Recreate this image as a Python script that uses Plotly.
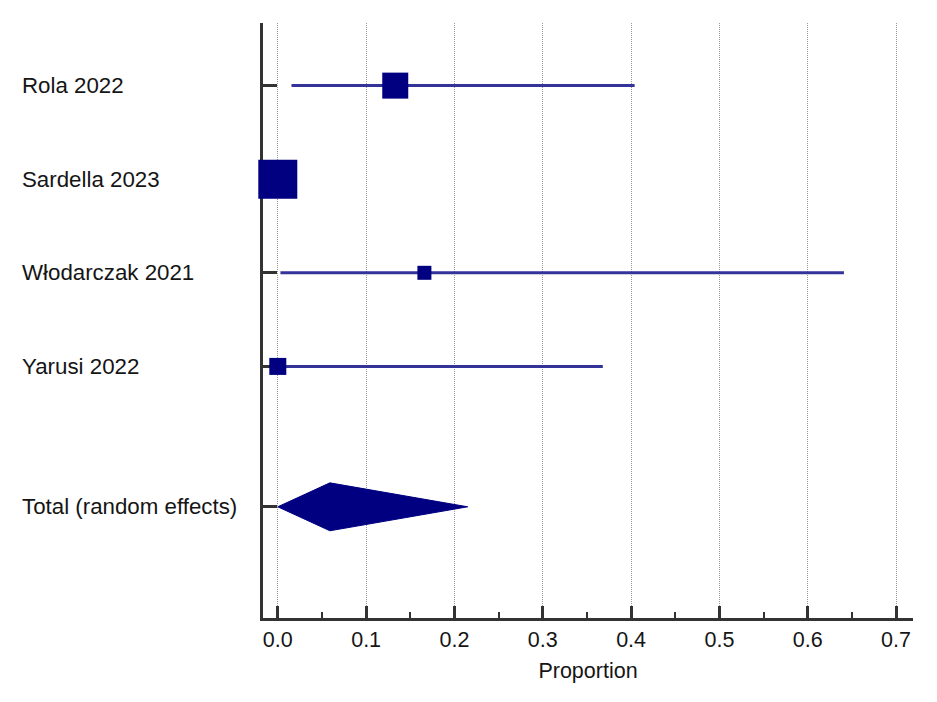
import plotly.graph_objects as go

# ---- data ----
studies = ["Rola 2022", "Sardella 2023", "Włodarczak 2021", "Yarusi 2022"]
estimates = [0.133, 0.0, 0.166, 0.0]
ci_low = [0.0155, 0.0, 0.003, 0.0]
ci_high = [0.404, 0.019, 0.641, 0.368]
total_label = "Total (random effects)"
total_est = 0.059
total_low = 0.0
total_high = 0.215
tick_vals = [0.0, 0.1, 0.2, 0.3, 0.4, 0.5, 0.6, 0.7]

# ---- style ----
row_pos = [0, 1, 2, 3]
total_pos = 4.5
marker_sizes = [26, 39, 14, 17]
navy = "#000080"
ci_color = "#333399"
axis_color = "#333333"
text_color = "#151515"
font_family = "Liberation Sans, Arial, sans-serif"
diamond_half = 0.256

fig = go.Figure()

# CI lines
for lo, hi, y in zip(ci_low, ci_high, row_pos):
    fig.add_trace(go.Scatter(x=[lo, hi], y=[y, y], mode="lines",
                             line=dict(color=ci_color, width=3),
                             hoverinfo="skip", showlegend=False, cliponaxis=False))

# squares
fig.add_trace(go.Scatter(x=estimates, y=row_pos, mode="markers",
                         marker=dict(symbol="square", size=marker_sizes, color=navy,
                                     opacity=1, line=dict(width=0)),
                         showlegend=False, cliponaxis=False))

# diamond
fig.add_trace(go.Scatter(
    x=[total_low, total_est, total_high, total_est, total_low],
    y=[total_pos, total_pos - diamond_half, total_pos, total_pos + diamond_half, total_pos],
    mode="lines", fill="toself", fillcolor=navy,
    line=dict(color=navy, width=1), showlegend=False, cliponaxis=False))

# left labels
labels = studies + [total_label]
label_pos = row_pos + [total_pos]
plot_left, plot_right = 262.5, 913
for lab, y in zip(labels, label_pos):
    fig.add_annotation(text=lab, x=(19 - plot_left) / (plot_right - plot_left), xref="paper",
                       y=y, yref="y", xanchor="left", yanchor="middle", showarrow=False,
                       font=dict(family=font_family, size=22.3, color=text_color))

# page body has an 8px default margin: compensate
fig.update_layout(
    width=929, height=694,
    margin=dict(l=254.5, r=24, t=15, b=83.5),
    paper_bgcolor="white", plot_bgcolor="white",
    font=dict(family=font_family, size=21.5, color=text_color),
    xaxis=dict(range=[-0.01674, 0.7192], tickvals=tick_vals, tickformat=".1f",
               showgrid=True, gridcolor="#999999", griddash="1px,1px", gridwidth=1,
               zeroline=False, showline=True, linecolor=axis_color, linewidth=3,
               ticks="inside", ticklen=12, tickwidth=3, tickcolor=axis_color,
               minor=dict(ticks="inside", ticklen=6, tickwidth=2, tickcolor=axis_color,
                          dtick=0.05, showgrid=False),
               title=dict(text="Proportion", font=dict(size=21.5, color=text_color), standoff=13),
               tickfont=dict(size=21.5, color=text_color),
               layer="below traces", fixedrange=True),
    yaxis=dict(range=[5.688, -0.669], tickvals=label_pos, showticklabels=False,
               showgrid=False, zeroline=False, showline=True, linecolor=axis_color,
               linewidth=3, ticks="inside", ticklen=14, tickwidth=3, tickcolor=axis_color,
               layer="below traces", fixedrange=True),
)

fig.write_html("out.html")
